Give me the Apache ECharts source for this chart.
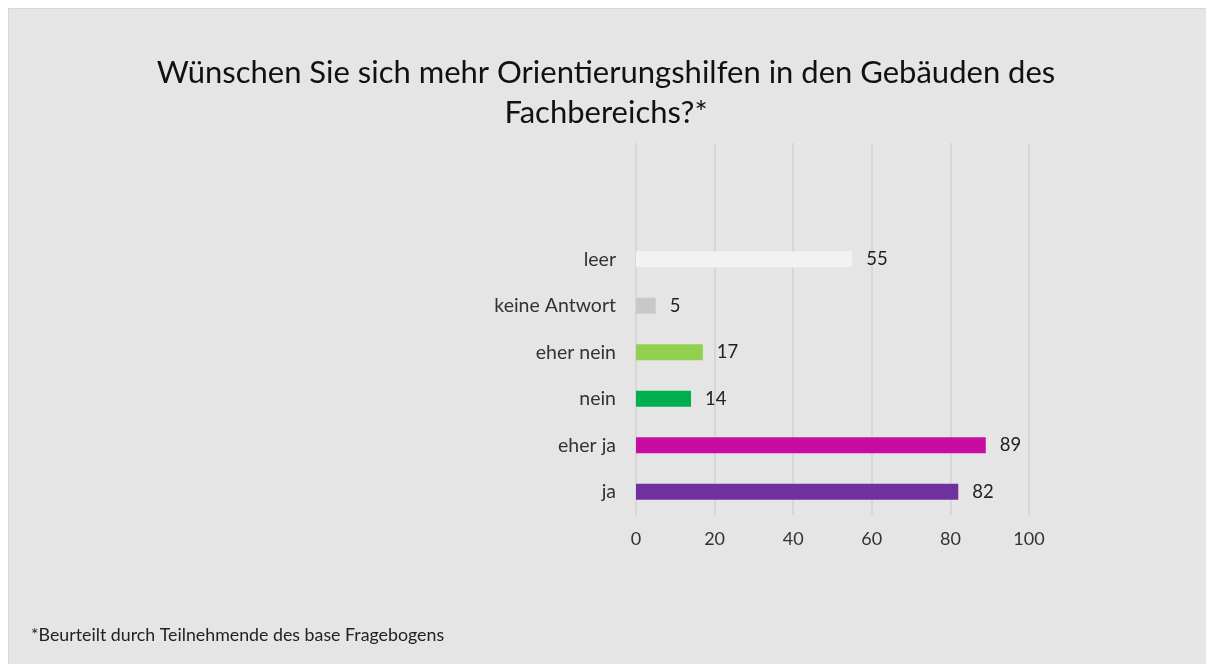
<!DOCTYPE html>
<html>
<head>
<meta charset="utf-8">
<script src="https://cdn.jsdelivr.net/npm/echarts@6/dist/echarts.min.js"></script>
<style>
  html, body { margin: 0; padding: 0; background: #fff; }
  #chart {
    position: absolute;
    left: 8px;
    top: 8px;
    width: 1198px;
    height: 656px;
    border-top: 1px solid #d6d6d6;
    border-left: 1px solid #d6d6d6;
    box-sizing: border-box;
  }
</style>
</head>
<body>
<div id="chart"></div>
<script>
// Daten (von unten nach oben)
const categories = ['ja', 'eher ja', 'nein', 'eher nein', 'keine Antwort', 'leer'];
const values = [82, 89, 14, 17, 5, 55];
const barColors = ['#7030a0', '#c80ca2', '#00b050', '#92d050', '#c8c8c8', '#f2f2f2'];
const xTicks = [0, 20, 40, 60, 80, 100];

const titleText = 'Wünschen Sie sich mehr Orientierungshilfen in den Gebäuden des\nFachbereichs?*';
const footnote = '*Beurteilt durch Teilnehmende des base Fragebogens';

// zwei leere Kategorien oben, wie im Original
const yCats = categories.concat(['', '']);

const fontFam = 'Lato, "Open Sans", sans-serif';
const chart = echarts.init(document.getElementById('chart'));

const option = {
  backgroundColor: '#e5e5e5',
  animation: false,
  textStyle: { fontFamily: fontFam },
  graphic: [{
    type: 'text',
    x: 597,
    y: 44,
    style: {
      text: titleText,
      align: 'center',
      verticalAlign: 'top',
      fontSize: 31,
      lineHeight: 40,
      fill: '#111',
      fontFamily: fontFam
    }
  }, {
    type: 'text',
    left: 22,
    top: 617,
    style: {
      text: footnote,
      fontSize: 17.8,
      fill: '#222',
      fontFamily: fontFam
    }
  }],
  grid: {
    left: 627,
    right: 177,
    top: 134,
    bottom: 149,
    containLabel: false
  },
  xAxis: {
    type: 'value',
    min: xTicks[0],
    max: xTicks[xTicks.length - 1],
    interval: 20,
    axisLine: { show: false },
    axisTick: { show: false },
    axisLabel: {
      color: '#333',
      fontSize: 18,
      margin: 15
    },
    splitLine: { lineStyle: { color: '#d2d2d2', width: 1.5 } }
  },
  yAxis: {
    type: 'category',
    data: yCats,
    axisLine: { show: false },
    axisTick: { show: false },
    axisLabel: {
      color: '#333',
      fontSize: 19.5,
      margin: 20
    },
    splitLine: { show: false }
  },
  series: [{
    type: 'bar',
    barWidth: 16,
    data: values.map((v, i) => ({ value: v, itemStyle: { color: barColors[i] } })),
    label: {
      show: true,
      position: 'right',
      distance: 14,
      color: '#222',
      fontSize: 18.5
    }
  }]
};

chart.setOption(option);
</script>
</body>
</html>
